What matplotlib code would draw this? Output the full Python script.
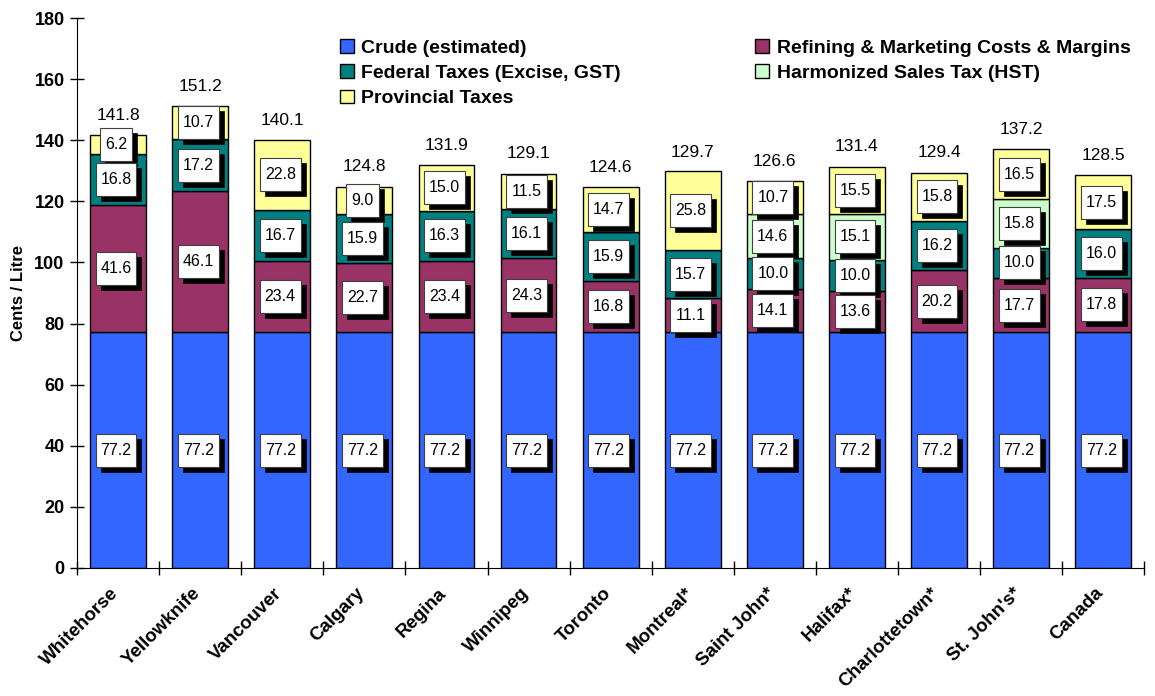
import numpy as np
import matplotlib
matplotlib.use("Agg")
import matplotlib.pyplot as plt
import matplotlib.transforms as mtransforms
from matplotlib.patches import Rectangle

plt.rcParams['font.family'] = ['Liberation Sans', 'DejaVu Sans']

cities = ["Whitehorse", "Yellowknife", "Vancouver", "Calgary", "Regina", "Winnipeg",
          "Toronto", "Montreal*", "Saint John*", "Halifax*", "Charlottetown*",
          "St. John's*", "Canada"]
crude = [77.2] * 13
refining = [41.6, 46.1, 23.4, 22.7, 23.4, 24.3, 16.8, 11.1, 14.1, 13.6, 20.2, 17.7, 17.8]
federal = [16.8, 17.2, 16.7, 15.9, 16.3, 16.1, 15.9, 15.7, 10.0, 10.0, 16.2, 10.0, 16.0]
hst = [0, 0, 0, 0, 0, 0, 0, 0, 14.6, 15.1, 0, 15.8, 0]
provincial = [6.2, 10.7, 22.8, 9.0, 15.0, 11.5, 14.7, 25.8, 10.7, 15.5, 15.8, 16.5, 17.5]
totals = [141.8, 151.2, 140.1, 124.8, 131.9, 129.1, 124.6, 129.7, 126.6, 131.4, 129.4, 137.2, 128.5]

series = [
    ("Crude (estimated)", crude, "#3366FF"),
    ("Refining & Marketing Costs & Margins", refining, "#993366"),
    ("Federal Taxes (Excise, GST)", federal, "#008080"),
    ("Harmonized Sales Tax (HST)", hst, "#CCFFCC"),
    ("Provincial Taxes", provincial, "#FFFF99"),
]

DPI = 100
fig = plt.figure(figsize=(11.55, 6.96), dpi=DPI)
ax = fig.add_axes([0.0667, 0.184, 0.924, 0.79])


def value_box(xd, yd, label):
    # white box with a black drop shadow, sized in pixels around the data point
    trans = fig.dpi_scale_trans + mtransforms.ScaledTranslation(xd, yd, ax.transData)
    ndig = sum(c.isdigit() for c in label)
    w = (ndig * 8.5 + 4.3 + 11) / DPI
    h = 33 / DPI
    cx = -2 / DPI
    sh = 5 / DPI
    ax.add_patch(Rectangle((cx - w / 2 + sh, -h / 2 - sh), w, h, transform=trans,
                           fc="black", ec="black", lw=0.5, zorder=4))
    ax.add_patch(Rectangle((cx - w / 2, -h / 2), w, h, transform=trans,
                           fc="white", ec="#404040", lw=0.8, zorder=5))
    ax.text(cx, 0, label, transform=trans, ha="center", va="center",
            fontsize=11.5, zorder=6)


x = np.arange(len(cities))
width = 0.68
bottom = np.zeros(len(cities))
handles = {}
for name, vals, color in series:
    vals = np.array(vals, dtype=float)
    bars = ax.bar(x, vals, width, bottom=bottom, color=color, edgecolor="black",
                  linewidth=1.0, label=name, zorder=2)
    handles[name] = bars
    for xi, b, v in zip(x, bottom, vals):
        if v > 0:
            value_box(xi, b + v / 2, f"{v:.1f}")
    bottom = bottom + vals

for xi, t in zip(x, totals):
    ax.text(xi, t + 4.0, f"{t:.1f}", ha="center", va="bottom", fontsize=12.5)

ax.set_xlim(-0.5, len(cities) - 0.5)
ax.set_ylim(0, 180)
ax.set_yticks(np.arange(0, 181, 20))
ax.set_ylabel("Cents / Litre", fontsize=12, fontweight="bold", labelpad=6)
ax.tick_params(axis="y", direction="inout", length=10, width=1, labelsize=13, pad=4)
for lbl in ax.get_yticklabels():
    lbl.set_fontweight("bold")

ax.set_xticks(x)
ax.set_xticklabels(cities, rotation=45, ha="right", rotation_mode="anchor",
                   fontsize=13.5, fontweight="bold")
ax.tick_params(axis="x", which="major", length=0, pad=12)
shift = mtransforms.ScaledTranslation(-6 / 72, 0, fig.dpi_scale_trans)
for lbl in ax.get_xticklabels():
    lbl.set_transform(lbl.get_transform() + shift)
ax.set_xticks(np.arange(-0.5, len(cities), 1.0), minor=True)
ax.tick_params(axis="x", which="minor", direction="inout", length=10, width=1)

for s in ["top", "right"]:
    ax.spines[s].set_visible(False)

order = ["Crude (estimated)", "Federal Taxes (Excise, GST)", "Provincial Taxes",
         "Refining & Marketing Costs & Margins", "Harmonized Sales Tax (HST)"]
leg = ax.legend([handles[n] for n in order], order, ncol=2, loc="upper left",
                bbox_to_anchor=(0.2465, 0.962), frameon=False, handlelength=0.7,
                handleheight=0.7, handletextpad=0.4, columnspacing=6.9,
                labelspacing=0.4, borderpad=0, borderaxespad=0,
                prop=dict(weight="bold", size=14))
leg.set_zorder(10)

fig.savefig("out.png", dpi=DPI)
